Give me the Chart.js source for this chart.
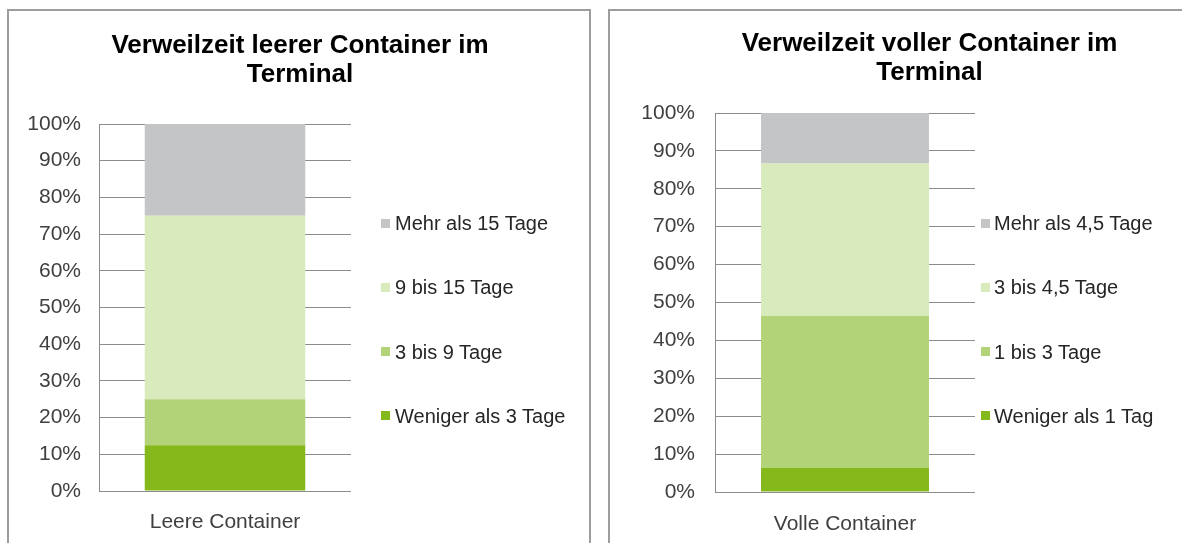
<!DOCTYPE html>
<html lang="de">
<head>
<meta charset="utf-8">
<title>Verweilzeit Container im Terminal</title>
<script src="https://cdn.jsdelivr.net/npm/chart.js@4.4.1/dist/chart.umd.min.js"></script>
<style>
  body { margin: 0; width: 1182px; height: 543px; overflow: hidden; background: #fff; position: relative; font-family: "Liberation Sans", Arial, sans-serif; }
  .panel { position: absolute; top: 9px; height: 600px; border: 2px solid #9d9d9d; box-sizing: border-box; }
  #panel-leer { left: 7px; width: 584px; }
  #panel-voll { left: 608px; width: 700px; }
  canvas { position: absolute; top: 12px; }
  #chart-leer { left: 10px; }
  #chart-voll { left: 611px; }
  .legend { position: absolute; top: 213.3px; }
  #legend-leer { left: 381px; }
  #legend-voll { left: 981px; }
  .legend div { display: flex; align-items: center; height: 20px; line-height: 20px; margin-bottom: 44.2px; font-size: 20px; color: #262626; white-space: nowrap; }
  .legend span { width: 9px; height: 9px; margin-right: 5px; flex: none; }
  #legend-voll span { margin-right: 4px; }
</style>
</head>
<body>
<div class="panel" id="panel-leer"></div>
<div class="panel" id="panel-voll"></div>
<canvas id="chart-leer" width="578" height="531"></canvas>
<canvas id="chart-voll" width="637" height="531"></canvas>
<div class="legend" id="legend-leer"></div>
<div class="legend" id="legend-voll"></div>

<script>
// DATEN
const leerTitle = ["Verweilzeit leerer Container im", "Terminal"];
const leerCategories = ["Leere Container"];
const leerSeries = ["Weniger als 3 Tage", "3 bis 9 Tage", "9 bis 15 Tage", "Mehr als 15 Tage"];
const leerValues = [12.5, 12.5, 50, 25];

const vollTitle = ["Verweilzeit voller Container im", "Terminal"];
const vollCategories = ["Volle Container"];
const vollSeries = ["Weniger als 1 Tag", "1 bis 3 Tage", "3 bis 4,5 Tage", "Mehr als 4,5 Tage"];
const vollValues = [6.4, 40.1, 40.2, 13.3];

// y-Achse in Prozent
const yMin = 0, yMax = 100, yStep = 10;

// FARBEN (von unten nach oben)
const seriesColors = ["#85b81a", "#b3d379", "#d9eabc", "#c4c5c7"];
const fontFamily = '"Liberation Sans", Arial, sans-serif';
const lineColor = "#8c8c8c";

function makeChart(canvasId, legendId, title, categories, series, values, box) {
  const datasets = series.map((name, i) => ({
    label: name,
    data: [values[i]],
    backgroundColor: seriesColors[i],
    borderWidth: 0,
    barPercentage: box.bar,
    categoryPercentage: 1
  }));

  const chart = new Chart(document.getElementById(canvasId), {
    type: "bar",
    data: { labels: categories, datasets: datasets },
    options: {
      responsive: false,
      animation: false,
      layout: { padding: { left: box.padLeft, right: 0, top: 0, bottom: 0 } },
      plugins: {
        legend: { display: false },
        tooltip: { enabled: false },
        title: {
          display: true,
          text: title,
          color: "#000",
          font: { family: fontFamily, size: 26, weight: "bold", lineHeight: "29px" },
          padding: { top: box.titleTop, bottom: box.titleBottom }
        }
      },
      scales: {
        x: {
          stacked: true,
          grid: { display: false },
          border: { display: false },
          ticks: { color: "#404040", font: { family: fontFamily, size: 21 }, padding: box.xPad, maxRotation: 0 },
          afterFit: s => { s.height = box.xHeight; }
        },
        y: {
          stacked: true,
          min: yMin,
          max: yMax,
          ticks: {
            stepSize: yStep,
            color: "#404040",
            font: { family: fontFamily, size: 21 },
            padding: box.yPad,
            callback: v => v + "%"
          },
          grid: { color: lineColor, drawTicks: false },
          border: { display: true, color: lineColor },
          afterFit: s => { s.width = box.yWidth; }
        },
        // leerer Platz rechts fuer die Legende
        side: {
          type: "linear",
          position: "right",
          grid: { display: false },
          border: { display: false },
          ticks: { display: false },
          afterFit: s => { s.width = box.sideWidth; }
        }
      }
    }
  });

  // LEGENDE (oberster Stapel zuerst)
  const legend = document.getElementById(legendId);
  chart.data.datasets.slice().reverse().forEach(ds => {
    const row = document.createElement("div");
    const sw = document.createElement("span");
    sw.style.background = ds.backgroundColor;
    row.appendChild(sw);
    row.appendChild(document.createTextNode(ds.label));
    legend.appendChild(row);
  });
  return chart;
}

makeChart("chart-leer", "legend-leer", leerTitle, leerCategories, leerSeries, leerValues, {
  padLeft: 2, titleTop: 19, titleBottom: 35, yWidth: 87, yPad: 18,
  xHeight: 52, xPad: 11, sideWidth: 237, bar: 0.637
});

makeChart("chart-voll", "legend-voll", vollTitle, vollCategories, vollSeries, vollValues, {
  padLeft: 0, titleTop: 17, titleBottom: 26, yWidth: 104, yPad: 20,
  xHeight: 51, xPad: 12, sideWidth: 273, bar: 0.646
});
</script>
</body>
</html>
